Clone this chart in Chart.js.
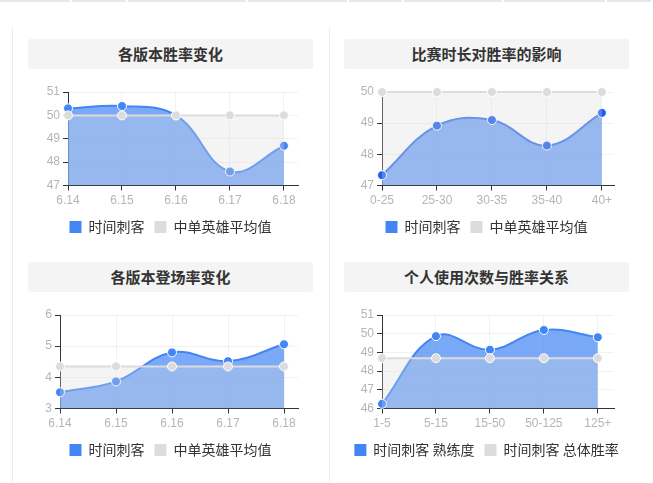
<!DOCTYPE html>
<html>
<head>
<meta charset="utf-8">
<script src="https://cdn.jsdelivr.net/npm/chart.js@4.4.1/dist/chart.umd.min.js"></script>
<style>
  body { margin: 0; background: #fff; font-family: "Liberation Sans", "Noto Sans CJK SC", sans-serif; }
  .topbar { position: absolute; left: 0; top: 0; width: 653px; height: 2px; display: flex; }
  .topbar span { height: 2px; background: #e6e6ee; margin-right: 2px; }
  .col { position: absolute; top: 27px; height: 456px; border-left: 1px solid #eeeeee; }
  .card { position: absolute; width: 285px; }
  .card h3 { margin: 0; height: 30px; line-height: 30px; background: #f4f4f4; border-radius: 3px;
             text-align: center; font-size: 15px; font-weight: bold; color: #333;
             font-family: "Noto Sans CJK SC", sans-serif; }
  .box { position: relative; width: 285px; height: 185px; }
</style>
</head>
<body>
<div class="topbar">
  <span style="width:70px"></span><span style="width:54px"></span><span style="width:119px"></span>
  <span style="width:99px"></span><span style="width:53px"></span><span style="width:99px"></span>
  <span style="width:101px"></span><span style="width:44px"></span>
</div>
<div class="col" style="left:12px"></div>
<div class="col" style="left:329px"></div>

<div class="card" style="left:28px;top:39px"><h3>各版本胜率变化</h3><div class="box"><canvas id="c1"></canvas></div></div>
<div class="card" style="left:344px;top:39px"><h3>比赛时长对胜率的影响</h3><div class="box"><canvas id="c2"></canvas></div></div>
<div class="card" style="left:28px;top:262px"><h3>各版本登场率变化</h3><div class="box"><canvas id="c3"></canvas></div></div>
<div class="card" style="left:344px;top:262px"><h3>个人使用次数与胜率关系</h3><div class="box"><canvas id="c4"></canvas></div></div>

<script>
const versions = ['6.14', '6.15', '6.16', '6.17', '6.18'];
const winRate = [50.3, 50.4, 50.0, 47.6, 48.7];
const midAvgWin = [50, 50, 50, 50, 50];

const durations = ['0-25', '25-30', '30-35', '35-40', '40+'];
const durationWin = [47.33, 48.92, 49.1, 48.28, 49.33];
const durationAvg = [50, 50, 50, 50, 50];

const pickRate = [3.52, 3.87, 4.8, 4.52, 5.06];
const midAvgPick = [4.35, 4.35, 4.35, 4.35, 4.35];

const games = ['1-5', '5-15', '15-50', '50-125', '125+'];
const proficiency = [46.25, 49.87, 49.14, 50.2, 49.81];
const overallWin = [48.69, 48.69, 48.69, 48.69, 48.69];

const winTicks = [47, 51];
const durationTicks = [47, 50];
const pickTicks = [3, 6];
const gamesTicks = [46, 51];

const legendNames = ['时间刺客', '中单英雄平均值'];
const gamesNames = ['时间刺客 熟练度', '时间刺客 总体胜率'];

const BLUE = '#4285f4';
const GRAY = '#dcdcdc';
const TICK = '#b5b5b5';
const AXIS = '#333333';

function toPoints(values) {
  return values.map((v, i) => ({ x: i, y: v }));
}

function makeChart(id, labels, main, avg, names, range, o) {
  const lineColor = o.line || BLUE;
  const dotColor = o.dot || BLUE;
  new Chart(document.getElementById(id), {
    type: 'line',
    data: {
      datasets: [
        {
          label: names[0],
          data: toPoints(main),
          order: 1,
          borderColor: lineColor,
          borderWidth: 2,
          backgroundColor: 'rgba(66,133,244,0.7)',
          fill: 'start',
          tension: 0.4,
          pointRadius: 4.5,
          pointBackgroundColor: dotColor,
          pointBorderColor: '#fff',
          pointBorderWidth: 1,
          clip: false
        },
        {
          label: names[1],
          data: toPoints(avg),
          order: 0,
          borderColor: GRAY,
          borderWidth: 2,
          backgroundColor: 'rgba(220,220,220,0.3)',
          fill: 'start',
          tension: 0.4,
          pointRadius: 4.5,
          pointBackgroundColor: GRAY,
          pointBorderColor: '#fff',
          pointBorderWidth: 1,
          clip: false
        }
      ]
    },
    options: {
      responsive: true,
      maintainAspectRatio: false,
      animation: false,
      events: [],
      layout: { padding: { top: 23, right: 0, bottom: 10, left: 0 } },
      scales: {
        x: {
          type: 'linear',
          min: 0,
          max: o.xMax,
          border: { color: AXIS, width: 1 },
          grid: { color: 'rgba(0,0,0,0.05)', tickColor: AXIS, tickLength: 5 },
          ticks: {
            stepSize: 1,
            includeBounds: false,
            autoSkip: false,
            maxRotation: 0,
            padding: 3,
            color: TICK,
            font: { size: 12, family: '"Liberation Sans", sans-serif' },
            callback: v => labels[v]
          },
          afterFit: s => { s.height = 24.5; }
        },
        y: {
          min: range[0],
          max: range[1],
          border: { color: AXIS, width: 1 },
          grid: { color: 'rgba(0,0,0,0.05)', tickColor: AXIS, tickLength: 5 },
          ticks: {
            stepSize: 1,
            autoSkip: false,
            padding: 3,
            color: TICK,
            font: { size: 12, family: '"Liberation Sans", sans-serif' }
          },
          afterFit: s => { s.width = o.yWidth; }
        },
        pad: {
          type: 'linear',
          position: 'right',
          grid: { display: false },
          border: { display: false },
          ticks: { display: false },
          afterFit: s => { s.width = 15; }
        }
      },
      plugins: {
        tooltip: { enabled: false },
        legend: {
          position: 'bottom',
          labels: {
            boxWidth: 12,
            boxHeight: 12,
            padding: 10,
            color: '#333',
            font: { size: 14, family: '"Noto Sans CJK SC", sans-serif' },
            sort: (a, b) => a.datasetIndex - b.datasetIndex,
            generateLabels: chart => Chart.defaults.plugins.legend.labels.generateLabels(chart).map(item => {
              item.fillStyle = item.datasetIndex === 0 ? BLUE : GRAY;
              item.strokeStyle = item.fillStyle;
              item.lineWidth = 0;
              return item;
            })
          }
        }
      }
    }
  });
}

makeChart('c1', versions, winRate, midAvgWin, legendNames, winTicks, { xMax: 4.26, yWidth: 40 });
makeChart('c2', durations, durationWin, durationAvg, legendNames, durationTicks, { xMax: 4.22, yWidth: 38, line: '#3b73ea', dot: '#1f5ff0' });
makeChart('c3', versions, pickRate, midAvgPick, legendNames, pickTicks, { xMax: 4.25, yWidth: 32 });
makeChart('c4', games, proficiency, overallWin, gamesNames, gamesTicks, { xMax: 4.3, yWidth: 38 });
</script>
</body>
</html>
